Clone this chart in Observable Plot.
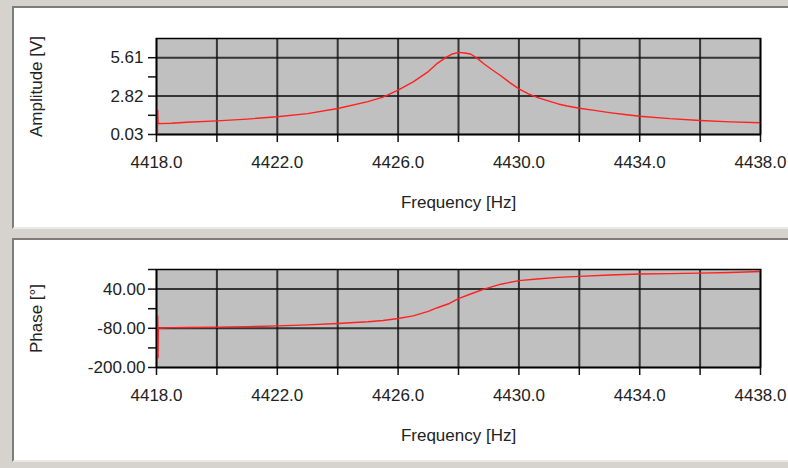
<!DOCTYPE html>
<html>
<head>
<meta charset="utf-8">
<script src="https://cdn.jsdelivr.net/npm/d3@7"></script>
<script src="https://cdn.jsdelivr.net/npm/@observablehq/plot@0.6"></script>
<style>
  html, body { margin: 0; padding: 0; }
  body { width: 788px; height: 468px; background: #d6d3ce; position: relative; overflow: hidden; font-family: "Liberation Sans", Arial, sans-serif; }
  .panel { position: absolute; left: 12px; width: 790px; background: #fff; border-left: 2px solid #7f7d79; border-top: 2px solid #7f7d79; border-bottom: 2px solid #ebe9e5; box-sizing: content-box; }
  .panel svg { position: absolute; left: 0; top: 0; overflow: visible; }
</style>
</head>
<body>
<div id="p1" class="panel" style="top:6px;height:219px;"></div>
<div id="p2" class="panel" style="top:238px;height:220px;"></div>
<script>
// ---- Amplitude panel data ----
const ampFreq = [4418.03, 4418.04, 4418.05, 4418.08, 4418.5, 4419, 4420, 4421, 4422, 4423, 4424, 4425, 4425.5, 4426, 4426.5, 4427, 4427.3, 4427.6, 4427.8, 4428.0, 4428.2, 4428.4, 4428.6, 4428.85, 4429.1, 4429.4, 4429.7, 4430, 4430.3, 4430.6, 4431, 4431.3, 4431.6, 4432, 4432.5, 4433, 4433.5, 4434, 4435, 4436, 4437, 4438];
const ampValue = [0.03, 1.8, 0.9, 0.82, 0.85, 0.92, 1.02, 1.15, 1.32, 1.55, 1.92, 2.42, 2.75, 3.25, 3.85, 4.6, 5.2, 5.65, 5.88, 6.0, 5.95, 5.88, 5.6, 5.15, 4.75, 4.3, 3.8, 3.35, 3.0, 2.73, 2.45, 2.25, 2.1, 1.94, 1.78, 1.62, 1.48, 1.36, 1.18, 1.05, 0.95, 0.88];

// ---- Phase panel data ----
const phaseFreq = [4418.03, 4418.04, 4418.05, 4418.06, 4418.5, 4419, 4420, 4421, 4422, 4423, 4424, 4425, 4425.5, 4426, 4426.5, 4427, 4427.3, 4427.7, 4428, 4428.4, 4428.85, 4429.4, 4430, 4430.6, 4431.3, 4432, 4433, 4434, 4435, 4436, 4437, 4438];
const phaseValue = [-80, -42, -170, -80, -78, -77.5, -76.5, -75, -72.5, -69.5, -65.5, -60, -56, -50, -42, -28, -17, -4, 11, 25, 40, 55, 66, 71, 76, 79, 83, 86, 87.5, 89, 91, 94];

// ---- Tick values ----
const freqTicks = [4418, 4420, 4422, 4424, 4426, 4428, 4430, 4432, 4434, 4436, 4438];
const freqLabels = [4418, 4422, 4426, 4430, 4434, 4438];
const ampMajor = [0.03, 2.82, 5.61];
const ampMinor = [1.425, 4.215];
const phaseMajor = [-200, -80, 40];
const phaseMinor = [-140, -20, 100];

const ampTitle = "Amplitude [V]";
const phaseTitle = "Phase [°]";
const freqTitle = "Frequency [Hz]";

const ampRows = ampFreq.map((f, i) => ({f, v: ampValue[i]}));
const phaseRows = phaseFreq.map((f, i) => ({f, v: phaseValue[i]}));

const gridStyle = {stroke: "#111", strokeOpacity: 0.8, strokeWidth: 2};
const textStyle = {fontFamily: "'Liberation Sans', Arial, sans-serif", fontSize: "17px", background: "transparent", color: "#222", overflow: "visible"};

function panel({rows, yDomain, yMajor, yMinor, yLabel, height, marginTop, yPad, yLabelOffset}) {
  return Plot.plot({
    width: 776,
    height,
    marginLeft: 142,
    marginRight: 30,
    marginTop,
    marginBottom: 93,
    style: textStyle,
    x: {domain: [4418, 4438]},
    y: {domain: yDomain},
    marks: [
      Plot.frame({fill: "#c0c0c0", stroke: null}),
      Plot.gridX(freqTicks, gridStyle),
      Plot.gridY(yMajor, gridStyle),
      Plot.axisX(freqTicks, {
        tickSize: 8, tickPadding: 13, stroke: "#111", strokeWidth: 1.5,
        tickFormat: d => freqLabels.includes(d) ? d.toFixed(1) : "",
        label: freqTitle, labelAnchor: "center", labelOffset: 73, labelArrow: "none"
      }),
      Plot.axisY([...yMajor, ...yMinor].sort((a, b) => a - b), {
        tickSize: 8, tickPadding: yPad, stroke: "#111", strokeWidth: 1.5,
        tickFormat: d => yMajor.includes(d) ? d.toFixed(2) : "",
        label: yLabel, labelAnchor: "center", labelOffset: yLabelOffset, labelArrow: "none"
      }),
      Plot.line(rows, {x: "f", y: "v", stroke: "#ff2020", strokeWidth: 1.4}),
      Plot.frame({stroke: "#000", strokeWidth: 1.5})
    ]
  });
}

document.getElementById("p1").appendChild(panel({
  rows: ampRows, yDomain: [0.03, 7.005], yMajor: ampMajor, yMinor: ampMinor,
  yLabel: ampTitle, height: 219, marginTop: 30, yPad: 5, yLabelOffset: 127
}));
document.getElementById("p2").appendChild(panel({
  rows: phaseRows, yDomain: [-200, 100], yMajor: phaseMajor, yMinor: phaseMinor,
  yLabel: phaseTitle, height: 220, marginTop: 29, yPad: 3, yLabelOffset: 127
}));
</script>
</body>
</html>
